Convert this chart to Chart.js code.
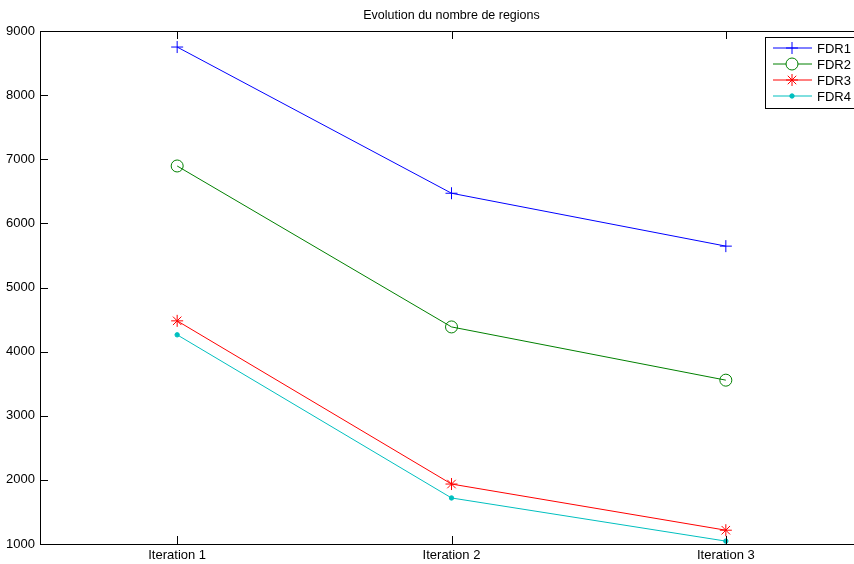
<!DOCTYPE html>
<html>
<head>
<meta charset="utf-8">
<script src="https://cdn.jsdelivr.net/npm/chart.js@4"></script>
<style>
  html, body { margin: 0; padding: 0; background: #fff; overflow: hidden; }
  #wrap { width: 870px; height: 564px; }
</style>
</head>
<body>
<div id="wrap"><canvas id="chart"></canvas></div>
<script>
const categories = ['Iteration 1', 'Iteration 2', 'Iteration 3'];
const fdr1 = [8750, 6470, 5645];
const fdr2 = [6895, 4385, 3555];
const fdr3 = [4480, 1935, 1215];
const fdr4 = [4262, 1718, 1045];
const yTicks = [1000, 2000, 3000, 4000, 5000, 6000, 7000, 8000, 9000];
const chartTitle = 'Evolution du nombre de regions';

const FONT = '"Liberation Sans", Arial, sans-serif';

const toPoints = vals => vals.map((v, i) => ({ x: i + 1, y: v }));

const series = [
  { label: 'FDR1', data: fdr1, color: '#0000ff', style: 'cross', radius: 6, fill: false },
  { label: 'FDR2', data: fdr2, color: '#008000', style: 'circle', radius: 6, fill: false },
  { label: 'FDR3', data: fdr3, color: '#ff0000', style: 'star', radius: 6, fill: false },
  { label: 'FDR4', data: fdr4, color: '#00bfbf', style: 'circle', radius: 2.2, fill: true }
];

// matlab-ish frame: top border, inward ticks, title, legend
const framePlugin = {
  id: 'frame',
  afterDraw(chart) {
    const { ctx, chartArea: a, scales } = chart;
    ctx.save();
    ctx.strokeStyle = '#000';
    ctx.lineWidth = 1;
    ctx.beginPath();
    ctx.moveTo(a.left, a.top + 0.5);
    ctx.lineTo(a.right, a.top + 0.5);
    ctx.moveTo(a.right - 0.5, a.top);
    ctx.lineTo(a.right - 0.5, a.bottom);
    yTicks.forEach(v => {
      const y = Math.round(scales.y.getPixelForValue(v)) + 0.5;
      ctx.moveTo(a.left, y); ctx.lineTo(a.left + 8, y);
      ctx.moveTo(a.right, y); ctx.lineTo(a.right - 8, y);
    });
    categories.forEach((c, i) => {
      const x = Math.round(scales.x.getPixelForValue(i + 1)) + 0.5;
      ctx.moveTo(x, a.bottom); ctx.lineTo(x, a.bottom - 8);
      ctx.moveTo(x, a.top); ctx.lineTo(x, a.top + 8);
    });
    ctx.stroke();

    ctx.fillStyle = '#000';
    ctx.font = '12.5px ' + FONT;
    ctx.textAlign = 'center';
    ctx.textBaseline = 'middle';
    ctx.fillText(chartTitle, (a.left + a.right) / 2, 16);

    // legend
    const lx = 765, ly = 37, lw = 100, lh = 71;
    ctx.fillStyle = '#fff';
    ctx.fillRect(lx, ly, lw, lh);
    ctx.strokeStyle = '#000';
    ctx.strokeRect(lx + 0.5, ly + 0.5, lw, lh);
    series.forEach((s, i) => {
      const y = ly + 11 + i * 16;
      ctx.strokeStyle = s.color;
      ctx.fillStyle = s.fill ? s.color : '#fff';
      ctx.lineWidth = 1;
      ctx.beginPath();
      ctx.moveTo(lx + 8, y); ctx.lineTo(lx + 47, y);
      ctx.stroke();
      Chart.helpers.drawPoint(ctx, {
        pointStyle: s.style, radius: s.radius, borderWidth: 1, rotation: 0
      }, lx + 27, y);
      ctx.fillStyle = '#000';
      ctx.textAlign = 'left';
      ctx.font = '13px ' + FONT;
      ctx.fillText(s.label, lx + 52, y + 1);
    });
    ctx.restore();
  }
};

new Chart(document.getElementById('chart'), {
  type: 'line',
  data: {
    datasets: series.map(s => ({
      label: s.label,
      data: toPoints(s.data),
      borderColor: s.color,
      backgroundColor: s.fill ? s.color : 'rgba(0,0,0,0)',
      pointBorderColor: s.color,
      pointBackgroundColor: s.fill ? s.color : 'rgba(0,0,0,0)',
      pointStyle: s.style,
      pointRadius: s.radius,
      pointBorderWidth: 1,
      borderWidth: 1,
      tension: 0,
      fill: false
    }))
  },
  options: {
    responsive: true,
    maintainAspectRatio: false,
    animation: false,
    layout: { padding: { top: 31, right: 6, left: 0, bottom: 0 } },
    plugins: {
      legend: { display: false },
      title: { display: false },
      tooltip: { enabled: false }
    },
    scales: {
      x: {
        type: 'linear',
        min: 0.5,
        max: 3.5,
        afterBuildTicks: scale => { scale.ticks = categories.map((c, i) => ({ value: i + 1 })); },
        afterFit: scale => { scale.height = 20; },
        ticks: {
          autoSkip: false,
          maxRotation: 0,
          padding: 4,
          color: '#000',
          font: { family: FONT, size: 13 },
          callback: v => categories[v - 1] || ''
        },
        grid: { display: false, drawTicks: false },
        border: { display: true, color: '#000', width: 1 }
      },
      y: {
        min: 1000,
        max: 9000,
        afterBuildTicks: scale => { scale.ticks = yTicks.map(v => ({ value: v })); },
        afterFit: scale => { scale.width = 40; },
        ticks: {
          padding: 5,
          color: '#000',
          font: { family: FONT, size: 13 },
          callback: v => String(v)
        },
        grid: { display: false, drawTicks: false },
        border: { display: true, color: '#000', width: 1 }
      }
    }
  },
  plugins: [framePlugin]
});
</script>
</body>
</html>
